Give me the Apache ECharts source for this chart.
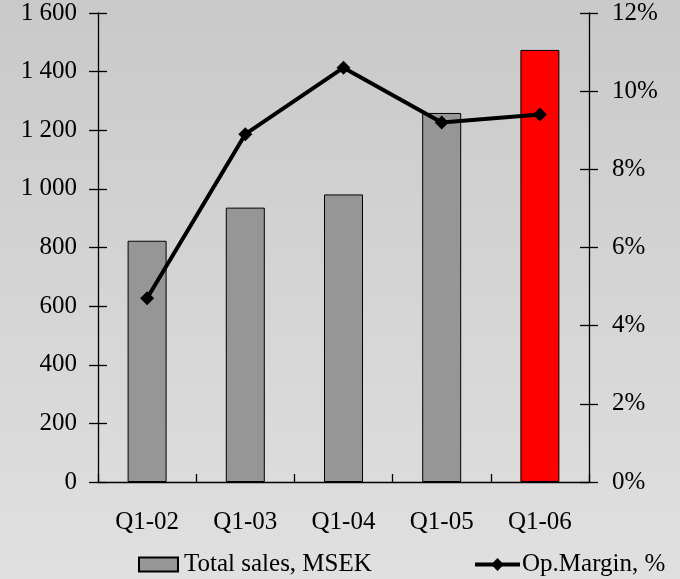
<!DOCTYPE html>
<html>
<head>
<meta charset="utf-8">
<script src="https://cdn.jsdelivr.net/npm/echarts@6/dist/echarts.min.js"></script>
<style>
  html, body { margin: 0; padding: 0; }
  #chart {
    width: 680px; height: 579px;
    background: linear-gradient(to bottom, #c9c9c9 0%, #e0e0e0 100%);
  }
</style>
</head>
<body>
<div id="chart"></div>
<script>
  // data
  const quarters = ['Q1-02', 'Q1-03', 'Q1-04', 'Q1-05', 'Q1-06'];
  const totalSales = [823, 936, 981, 1259, 1474];
  const opMargin = [4.7, 8.9, 10.6, 9.2, 9.4];
  const barColors = ['#969696', '#969696', '#969696', '#969696', '#ff0000'];

  const font = 'Liberation Serif';
  const fontSize = 25;

  // ticks cross the axis lines, so a second grid on top draws the inner half
  const gridBox = { left: 98, right: 91, top: 13, bottom: 97 };

  function thousands(v) {
    return String(v).replace(/\B(?=(\d{3})+(?!\d))/g, ' ');
  }

  const lineStyle = { color: '#000', width: 1.3 };
  const legendText = { fontFamily: font, fontSize: fontSize, color: '#000' };

  const option = {
    animation: false,
    textStyle: { fontFamily: font },
    grid: [
      Object.assign({}, gridBox),
      Object.assign({}, gridBox)
    ],
    legend: [
      {
        data: [{ name: 'Total sales, MSEK', icon: 'rect' }],
        left: 133, top: 547,
        itemWidth: 39, itemHeight: 14, itemGap: 0,
        textStyle: Object.assign({ padding: [0, 0, 0, 1] }, legendText)
      },
      {
        data: ['Op.Margin, %'],
        left: 468, top: 547,
        itemWidth: 45, itemHeight: 16,
        lineStyle: { width: 4 },
        textStyle: Object.assign({ padding: [0, 0, 0, -3] }, legendText)
      }
    ],
    xAxis: [
      {
        type: 'category', gridIndex: 0, data: quarters,
        axisLine: { lineStyle: lineStyle },
        axisTick: { length: 8, lineStyle: lineStyle },
        axisLabel: { color: '#000', fontSize: fontSize, fontFamily: font, margin: 28 }
      },
      {
        type: 'category', gridIndex: 1, data: quarters,
        axisLine: { show: false },
        axisTick: { show: true, inside: true, length: 8, lineStyle: lineStyle },
        axisLabel: { show: false }
      }
    ],
    yAxis: [
      {
        type: 'value', gridIndex: 0, position: 'left',
        min: 0, max: 1600, interval: 200,
        splitLine: { show: false },
        axisLine: { show: true, lineStyle: lineStyle },
        axisTick: { show: true, length: 9, lineStyle: lineStyle },
        axisLabel: { color: '#000', fontSize: fontSize, fontFamily: font, margin: 21, padding: [5, 0, 0, 0], formatter: thousands }
      },
      {
        type: 'value', gridIndex: 0, position: 'right',
        min: 0, max: 12, interval: 2,
        splitLine: { show: false },
        axisLine: { show: true, lineStyle: lineStyle },
        axisTick: { show: true, length: 9, lineStyle: lineStyle },
        axisLabel: { color: '#000', fontSize: fontSize, fontFamily: font, margin: 23, padding: [5, 0, 0, 0], formatter: '{value}%' }
      },
      {
        type: 'value', gridIndex: 1, position: 'left',
        min: 0, max: 1600, interval: 200,
        splitLine: { show: false },
        axisLine: { show: false },
        axisTick: { show: true, inside: true, length: 9, lineStyle: lineStyle },
        axisLabel: { show: false }
      },
      {
        type: 'value', gridIndex: 1, position: 'right',
        min: 0, max: 12, interval: 2,
        splitLine: { show: false },
        axisLine: { show: false },
        axisTick: { show: true, inside: true, length: 9, lineStyle: lineStyle },
        axisLabel: { show: false }
      }
    ],
    series: [
      {
        name: 'Total sales, MSEK',
        type: 'bar',
        xAxisIndex: 0, yAxisIndex: 0,
        barWidth: 39,
        itemStyle: { color: '#969696', borderColor: '#000', borderWidth: 1 },
        data: totalSales.map(function (v, i) {
          return { value: v, itemStyle: { color: barColors[i] } };
        }),
        z: 2
      },
      {
        name: 'Op.Margin, %',
        type: 'line',
        xAxisIndex: 0, yAxisIndex: 1,
        symbol: 'diamond', symbolSize: 14,
        lineStyle: { color: '#000', width: 4 },
        itemStyle: { color: '#000' },
        data: opMargin,
        z: 3
      },
      // empty series so the second grid's axes are laid out and drawn
      { type: 'line', xAxisIndex: 1, yAxisIndex: 2, data: [], silent: true },
      { type: 'line', xAxisIndex: 1, yAxisIndex: 3, data: [], silent: true }
    ]
  };

  const myChart = echarts.init(document.getElementById('chart'));
  myChart.setOption(option);
</script>
</body>
</html>
